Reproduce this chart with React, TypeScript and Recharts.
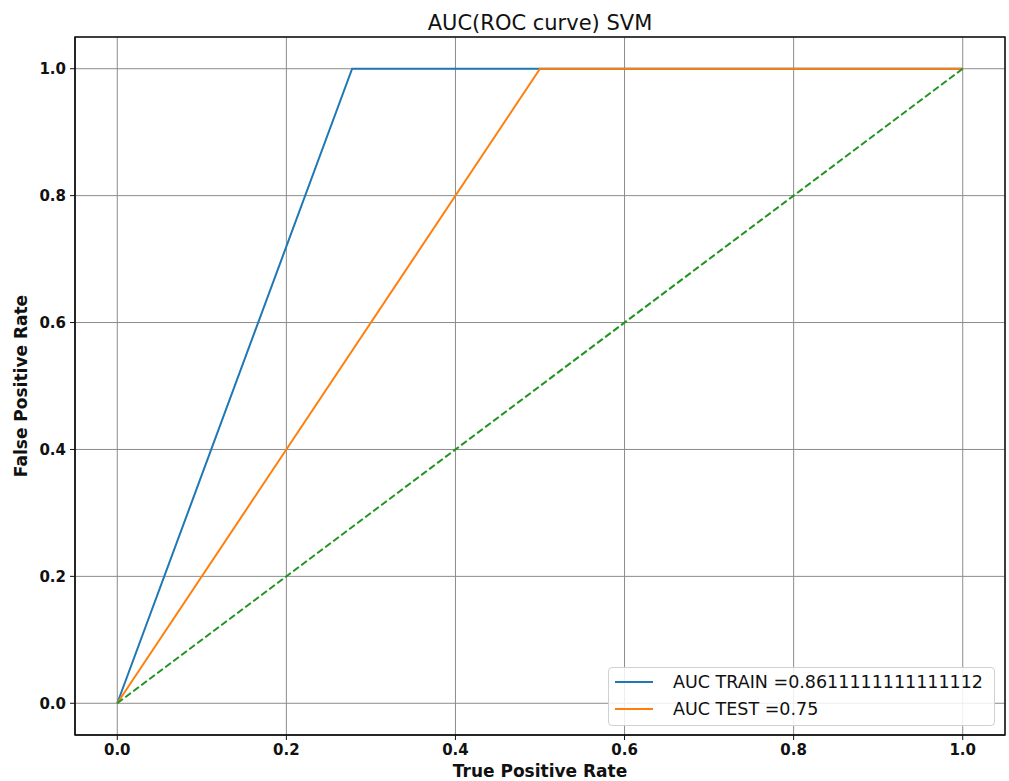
import React from "react";
import {
  LineChart,
  Line,
  XAxis,
  YAxis,
  CartesianGrid,
  ReferenceArea,
  Label,
} from "recharts";

// ROC points (fpr on x, tpr on y as plotted in the source)
const trainX = [0, 0.2778, 1];
const trainY = [0, 1, 1];
const testX = [0, 0.5, 1];
const testY = [0, 1, 1];
const chanceX = [0, 1];
const chanceY = [0, 1];

const tickValues = [0, 0.2, 0.4, 0.6, 0.8, 1.0];
const seriesNames = ["AUC TRAIN =0.8611111111111112", "AUC TEST =0.75"];

const toPoints = (xs: number[], ys: number[]) => xs.map((x, i) => ({ x, y: ys[i] }));

const trainData = toPoints(trainX, trainY);
const testData = toPoints(testX, testY);
const chanceData = toPoints(chanceX, chanceY);

const FONT = "'DejaVu Sans', sans-serif";
const BLUE = "#1f77b4";
const ORANGE = "#ff7f0e";
const GREEN = "#1f941f";

function MplLegend() {
  const items = [
    { name: seriesNames[0], color: BLUE },
    { name: seriesNames[1], color: ORANGE },
  ];
  return (
    <div
      style={{
        position: "absolute",
        left: 608,
        top: 667,
        width: 387,
        boxSizing: "border-box",
        border: "1px solid #d0d0d0",
        borderRadius: 4,
        background: "rgba(255,255,255,0.85)",
        padding: "0px 6px 3px 6px",
        fontFamily: FONT,
        fontSize: 17.5,
        color: "#111",
      }}
    >
      {items.map((it) => (
        <div key={it.name} style={{ display: "flex", alignItems: "center", height: 27 }}>
          <span
            style={{
              display: "inline-block",
              width: 38,
              height: 2,
              background: it.color,
              marginRight: 20,
            }}
          />
          <span>{it.name}</span>
        </div>
      ))}
    </div>
  );
}

export default function App() {
  const tickStyle = { fontSize: 15, fontWeight: "bold", fill: "#111", fontFamily: FONT };
  const labelStyle = { fontSize: 17, fontWeight: "bold", fill: "#111", fontFamily: FONT };
  return (
    <div style={{ position: "absolute", left: 0, top: 0, width: 1009, height: 781, background: "#fff", overflow: "hidden" }}>
      <div
        style={{
          position: "absolute",
          left: 75,
          width: 930,
          top: 11,
          textAlign: "center",
          fontFamily: FONT,
          fontSize: 21,
          color: "#111",
          lineHeight: "24px",
        }}
      >
        AUC(ROC curve) SVM
      </div>
      <LineChart
        width={1009}
        height={781}
        margin={{ top: 37, right: 4, bottom: 0, left: 0 }}
      >
        <CartesianGrid stroke="#8c8c8c" strokeWidth={1} />
        <XAxis
          type="number"
          dataKey="x"
          domain={[-0.05, 1.05]}
          ticks={tickValues}
          tickFormatter={(v: number) => v.toFixed(1)}
          height={46}
          tickSize={5}
          tickMargin={4}
          stroke="#111"
          tick={tickStyle}
          allowDataOverflow
        >
          <Label
            value="True Positive Rate"
            position="insideBottom"
            offset={4}
            style={labelStyle}
          />
        </XAxis>
        <YAxis
          type="number"
          dataKey="y"
          domain={[-0.05, 1.05]}
          ticks={tickValues}
          tickFormatter={(v: number) => v.toFixed(1)}
          width={75}
          tickSize={5}
          tickMargin={4}
          stroke="#111"
          tick={tickStyle}
          allowDataOverflow
        >
          <Label
            value="False Positive Rate"
            angle={-90}
            position="insideLeft"
            offset={21}
            style={{ ...labelStyle, textAnchor: "middle" }}
          />
        </YAxis>
        <ReferenceArea
          x1={-0.05}
          x2={1.05}
          y1={-0.05}
          y2={1.05}
          fill="none"
          stroke="#111"
          strokeWidth={1.5}
          ifOverflow="visible"
        />
        <Line
          data={trainData}
          dataKey="y"
          name={seriesNames[0]}
          stroke={BLUE}
          strokeWidth={2}
          dot={false}
          activeDot={false}
          isAnimationActive={false}
          type="linear"
        />
        <Line
          data={testData}
          dataKey="y"
          name={seriesNames[1]}
          stroke={ORANGE}
          strokeWidth={2}
          dot={false}
          activeDot={false}
          isAnimationActive={false}
          type="linear"
        />
        <Line
          data={chanceData}
          dataKey="y"
          name="chance"
          stroke={GREEN}
          strokeWidth={2}
          strokeDasharray="7 3"
          dot={false}
          activeDot={false}
          isAnimationActive={false}
          type="linear"
        />
      </LineChart>
      <MplLegend />
    </div>
  );
}
